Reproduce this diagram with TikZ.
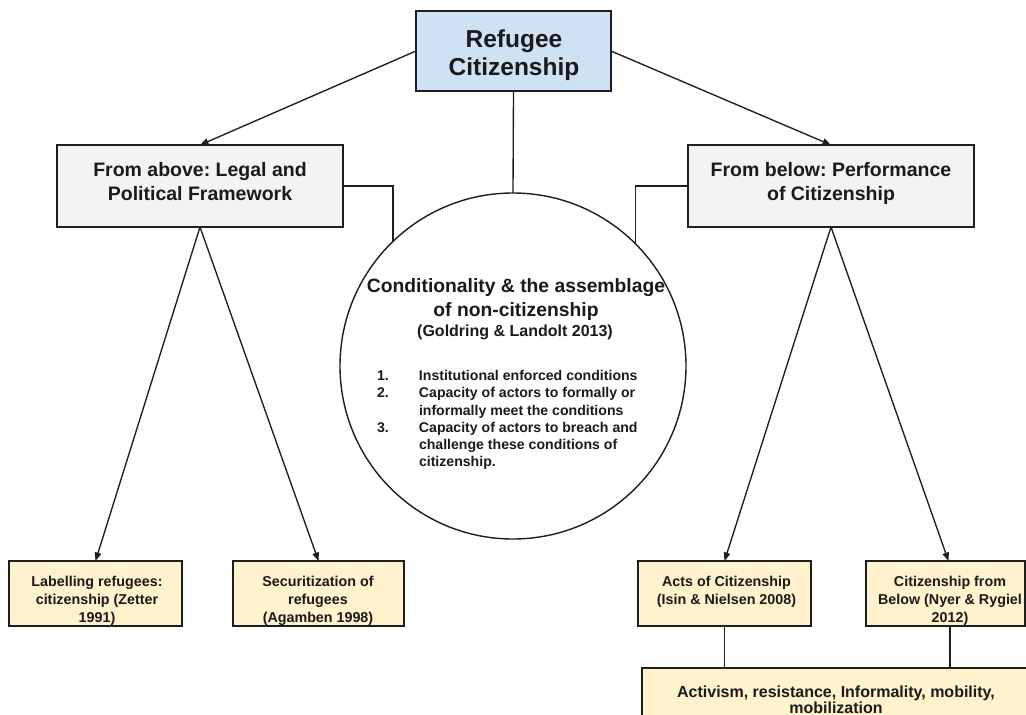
\documentclass[tikz,border=0pt]{standalone}
\usepackage{fontspec}
\setmainfont{Liberation Sans}
\usetikzlibrary{arrows.meta}
\definecolor{bluefill}{HTML}{CFE2F3}
\definecolor{grayfill}{HTML}{F3F3F3}
\definecolor{yellowfill}{HTML}{FFF2CC}
\definecolor{linec}{HTML}{1E1E1E}
\definecolor{textc}{HTML}{1A1A1A}
\newcommand{\mlc}[1]{\begin{tabular}[t]{@{}c@{}}#1\end{tabular}}
\frenchspacing
\begin{document}
\begin{tikzpicture}[x=1pt,y=-1pt,
  every node/.style={inner sep=0pt, outer sep=0pt},
  boxline/.style={draw=linec, line width=1.4pt},
  topbox/.style={boxline, fill=bluefill, minimum width=195pt, minimum height=80pt},
  midbox/.style={boxline, fill=grayfill, minimum width=286pt, minimum height=82pt},
  refbox/.style={boxline, fill=yellowfill, minimum height=65pt},
  bigcircle/.style={boxline, fill=white, circle, minimum size=346pt},
  conn/.style={draw=linec, line width=1.35pt},
  arr/.style={conn, -{Triangle[length=8.5pt,width=6.5pt]}},
  txt/.style={anchor=base, text=textc},
  ftop/.style={font=\fontsize{24.5}{28}\selectfont\bfseries},
  fmid/.style={font=\fontsize{19.5}{23.3}\selectfont\bfseries},
  ftitle/.style={font=\fontsize{19.3}{24}\selectfont\bfseries},
  fcite/.style={font=\fontsize{16}{20}\selectfont\bfseries},
  flist/.style={font=\fontsize{14.1}{17.2}\selectfont\bfseries},
  fref/.style={font=\fontsize{14.3}{18}\selectfont\bfseries},
  fact/.style={font=\fontsize{16}{16.5}\selectfont\bfseries}]
\useasboundingbox (0,0) rectangle (1026,715);
\clip (0,0) rectangle (1026,715);
\fill[white] (0,0) rectangle (1026,715);

% boxes
\node[topbox] (top) at (513.5,51) {};
\node[midbox] (left) at (200,186) {};
\node[midbox] (right) at (831,186) {};
\node[bigcircle] (circ) at (513,366) {};
\node[refbox, minimum width=173pt] (lab) at (95.5,593.5) {};
\node[refbox, minimum width=171pt] (sec) at (318.5,593.5) {};
\node[refbox, minimum width=173pt] (acts) at (724.5,593.5) {};
\node[refbox, minimum width=159pt] (cfb) at (945.5,593.5) {};
\node[refbox, minimum width=398pt, minimum height=72pt] (act) at (841,704) {};

% texts
\node[txt, ftop] (toptxt) at (514,47) {\mlc{Refugee\\Citizenship}};
\node[txt, fmid] (lefttxt) at (200,176.7) {\mlc{From above: Legal and\\Political Framework}};
\node[txt, fmid] (righttxt) at (831,176.7) {\mlc{From below: Performance\\of Citizenship}};
\node[txt, ftitle] (circtitle) at (516,292.7) {\mlc{Conditionality \& the assemblage\\of non-citizenship}};
\node[txt, fcite] (circcite) at (515,336.7) {(Goldring \& Landolt 2013)};
\node[text=textc, flist, anchor=base west] (circlist) at (377,380.7) {\begin{tabular}[t]{@{}p{42pt}@{}l@{}}
1.&Institutional enforced conditions\\
2.&Capacity of actors to formally or\\
&informally meet the conditions\\
3.&Capacity of actors to breach and\\
&challenge these conditions of\\
&citizenship.\end{tabular}};
\node[txt, fref] (labtxt) at (97,586.7) {\mlc{Labelling refugees:\\citizenship (Zetter\\1991)}};
\node[txt, fref] (sectxt) at (318,586.7) {\mlc{Securitization of\\refugees\\(Agamben 1998)}};
\node[txt, fref] (actstxt) at (726.5,586.7) {\mlc{Acts of Citizenship\\(Isin \& Nielsen 2008)}};
\node[txt, fref] (cfbtxt) at (950,586.7) {\mlc{Citizenship from\\Below (Nyer \& Rygiel\\2012)}};
\node[txt, fact] (acttxt) at (836,697) {\mlc{Activism, resistance, Informality, mobility,\\mobilization}};

% connectors
\draw[arr] (top.west) -- (left.north);
\draw[arr] (top.east) -- (right.north);
\draw[conn] (top.south) -- (circ.north);
\draw[conn] (left.east) -| (circ.134.8);
\draw[conn] (right.west) -| (circ.45.2);
\draw[arr] (left.south) -- (lab.north);
\draw[arr] (left.south) -- (sec.north);
\draw[arr] (right.south) -- (acts.north);
\draw[arr] (right.south) -- ([xshift=3pt]cfb.north);
\draw[conn] (acts.south) -- (acts.south |- act.north);
\draw[conn] ([xshift=4.5pt]cfb.south) -- ([xshift=4.5pt]cfb.south |- act.north);
\end{tikzpicture}
\end{document}
